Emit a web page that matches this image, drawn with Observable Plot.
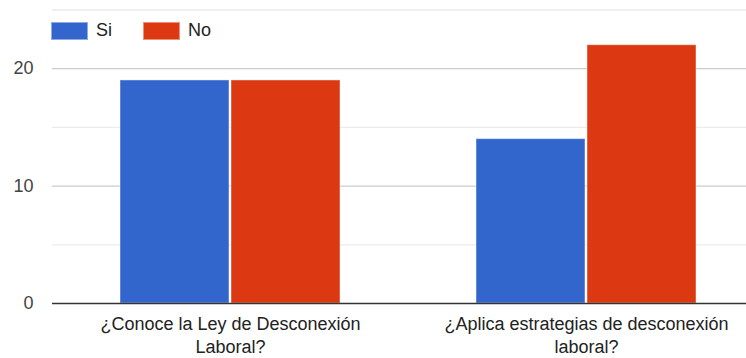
<!DOCTYPE html>
<html>
<head>
<meta charset="utf-8">
<script src="https://cdn.jsdelivr.net/npm/d3@7"></script>
<script src="https://cdn.jsdelivr.net/npm/@observablehq/plot@0.6"></script>
<style>
  html, body { margin: 0; padding: 0; background: #fff; overflow: hidden; }
  #wrap { position: relative; width: 746px; height: 358px; font-family: "Liberation Sans", Arial, sans-serif; }
  #legend { position: absolute; left: 51px; top: 20px; display: flex; align-items: center; font-size: 18px; color: #222; }
  .item { display: flex; align-items: center; margin-right: 31px; }
  .sw { width: 35px; height: 16px; border: 1px solid rgba(255,255,255,0.45); margin-right: 8px; }
</style>
</head>
<body>
<div id="wrap"><div id="legend"></div></div>
<script>
// Survey answers per question
const questions = ["¿Conoce la Ley de Desconexión Laboral?", "¿Aplica estrategias de desconexión laboral?"];
const series = ["Si", "No"];
const siValues = [19, 14];
const noValues = [19, 22];
const colors = ["#3366cc", "#dc3912"];
const yTicks = [0, 10, 20];
const majorGrid = [10, 20];
const minorGrid = [5, 15, 25];

const rows = questions.flatMap((q, i) => [
  {question: q, series: "Si", value: siValues[i]},
  {question: q, series: "No", value: noValues[i]}
]);

// Break each question before its last word
const wrapLabel = d => d.replace(/ (\S+\?)$/, "\n$1");

const chart = Plot.plot({
  width: 746,
  height: 358,
  marginTop: 9.5,
  marginBottom: 55,
  marginLeft: 51,
  marginRight: 0,
  style: {fontFamily: "Liberation Sans, Arial, sans-serif", fontSize: "18px", background: "transparent"},
  fx: {domain: questions, range: [51, 764], padding: 0, axis: null, label: null},
  x: {domain: series, paddingInner: 0.018, paddingOuter: 0.608, axis: null, label: null},
  y: {domain: [0, 25], axis: null, label: null},
  color: {domain: series, range: colors},
  marks: [
    Plot.ruleY(minorGrid, {stroke: "#ebebeb", strokeWidth: 1.3}),
    Plot.ruleY(majorGrid, {stroke: "#cccccc", strokeWidth: 1.3}),
    Plot.barY(rows, {fx: "question", x: "series", y: "value", fill: "series",
      stroke: "white", strokeOpacity: 0.45, strokeWidth: 1}),
    Plot.ruleY([0], {stroke: "#333", strokeWidth: 1.6}),
    Plot.axisY({ticks: yTicks, tickSize: 0, tickPadding: 19, fill: "#444", fontSize: 18, label: null}),
    Plot.axisFx({anchor: "bottom", label: null, tickSize: 0, tickPadding: 10, tickFormat: wrapLabel,
      lineHeight: 1.28, fill: "#222", fontSize: 18})
  ]
});

document.getElementById("wrap").prepend(chart);

const legend = document.getElementById("legend");
series.forEach((s, i) => {
  const item = document.createElement("div");
  item.className = "item";
  const sw = document.createElement("div");
  sw.className = "sw";
  sw.style.background = colors[i];
  const label = document.createElement("span");
  label.textContent = s;
  item.append(sw, label);
  legend.append(item);
});
</script>
</body>
</html>
